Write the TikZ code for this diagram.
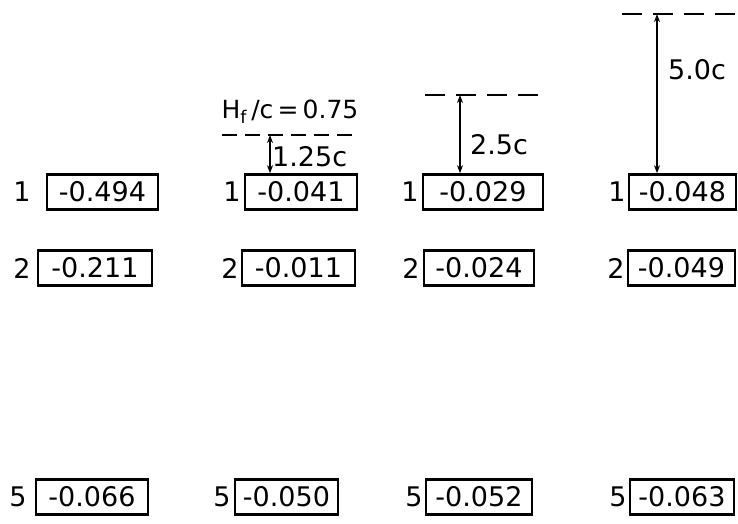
\documentclass[tikz,border=0pt]{standalone}
\usepackage{fontspec}
\setmainfont{DejaVu Sans}
\usetikzlibrary{arrows.meta,positioning}

\begin{document}
\begin{tikzpicture}[x=1pt,y=-1pt,
  valbox/.style={draw, line width=2.6pt, minimum height=35pt, inner sep=0pt, font=\fontsize{27}{30}\selectfont},
  rowlbl/.style={font=\fontsize{27}{30}\selectfont, inner sep=0pt},
  dimlbl/.style={font=\fontsize{27}{30}\selectfont, inner sep=0pt, anchor=west},
  level/.style={line width=2.6pt, dash pattern=on 20pt off 11pt},
  dimarrow/.style={line width=1.8pt, {Stealth[length=8pt,width=6pt]}-{Stealth[length=8pt,width=6pt]}}]
  \useasboundingbox (0,0) rectangle (738,524);

  % row 1
  \node[valbox, minimum width=111pt] (b11) at (102.5,192) {-0.494};
  \node[valbox, minimum width=112pt] (b12) at (301,192) {-0.041};
  \node[valbox, minimum width=120pt] (b13) at (483,192) {-0.029};
  \node[valbox, minimum width=107pt] (b14) at (682.5,192) {-0.048};
  \node[rowlbl] (r11) at (22,192) {1};
  \node[rowlbl] (r12) at (232,192) {1};
  \node[rowlbl] (r13) at (410,192) {1};
  \node[rowlbl] (r14) at (617,192) {1};

  % row 2
  \node[valbox, minimum width=114pt] (b21) at (95,268) {-0.211};
  \node[valbox, minimum width=113pt] (b22) at (298.5,268) {-0.011};
  \node[valbox, minimum width=110pt] (b23) at (479,268) {-0.024};
  \node[valbox, minimum width=107pt] (b24) at (681.5,268) {-0.049};
  \node[rowlbl] (r21) at (22,268) {2};
  \node[rowlbl] (r22) at (230,268) {2};
  \node[rowlbl] (r23) at (411,268) {2};
  \node[rowlbl] (r24) at (616,268) {2};

  % row 5
  \node[valbox, minimum width=112pt] (b51) at (92,497) {-0.066};
  \node[valbox, minimum width=103pt] (b52) at (286.5,497) {-0.050};
  \node[valbox, minimum width=106pt] (b53) at (479,497) {-0.052};
  \node[valbox, minimum width=104pt] (b54) at (682,497) {-0.063};
  \node[rowlbl] (r51) at (18,497) {5};
  \node[rowlbl] (r52) at (222,497) {5};
  \node[rowlbl] (r53) at (414,497) {5};
  \node[rowlbl] (r54) at (618,497) {5};

  % free surface levels
  \draw[level, dash pattern=on 15pt off 8pt] (222,135) -- (358,135);
  \draw[level] (425,95) -- (548,95);
  \draw[level] (622,14) -- (738,14);
  \node[font=\fontsize{25}{28}\selectfont, inner sep=0pt] (hf) at (290,112) {H\textsubscript{f}\,/c\,=\,0.75};

  \coordinate (t2) at (270,135);
  \coordinate (t3) at (460,95);
  \coordinate (t4) at (657,14);
  \draw[dimarrow] (t2) -- (b12.north -| t2);
  \draw[dimarrow] (t3) -- (b13.north -| t3);
  \draw[dimarrow] (t4) -- (b14.north -| t4);
  \node[dimlbl] (d2) at (272,157) {1.25c};
  \node[dimlbl] (d3) at (470,145) {2.5c};
  \node[dimlbl] (d4) at (668,70) {5.0c};
\end{tikzpicture}
\end{document}
